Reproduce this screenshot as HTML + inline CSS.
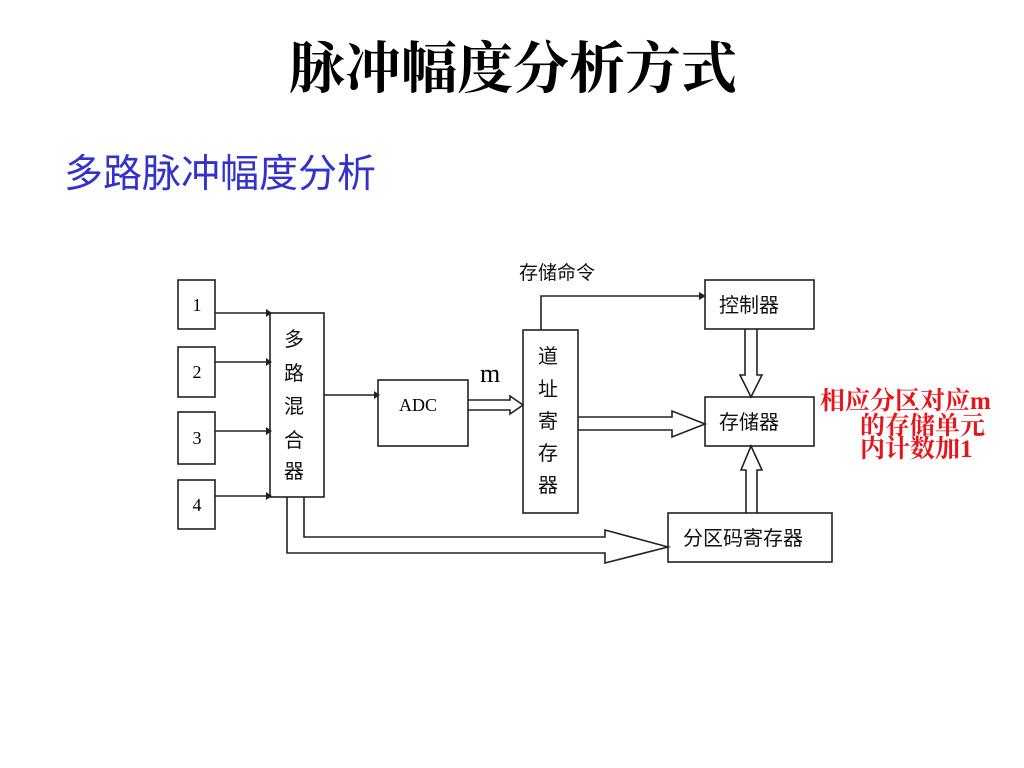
<!DOCTYPE html>
<html><head><meta charset="utf-8"><style>
html,body{margin:0;padding:0;background:#fff;width:1024px;height:768px;overflow:hidden}
</style></head><body>
<svg width="1024" height="768" xmlns="http://www.w3.org/2000/svg" style="position:absolute;left:0;top:0">
<text x="513" y="88" text-anchor="middle" font-family="Liberation Serif, Noto Serif CJK SC, serif" font-size="56" font-weight="bold" fill="#000">脉冲幅度分析方式</text>
<text x="64" y="187" font-family="Liberation Sans, Noto Sans CJK SC, sans-serif" font-size="39" fill="#3333cc">多路脉冲幅度分析</text>
<g fill="none" stroke="#222" stroke-width="1.6">
<rect x="178" y="280" width="37" height="49"/>
<rect x="178" y="347" width="37" height="50"/>
<rect x="178" y="412" width="37" height="52"/>
<rect x="178" y="480" width="37" height="49"/>
<rect x="270" y="313" width="54" height="184"/>
<rect x="378" y="380" width="90" height="66"/>
<rect x="523" y="330" width="55" height="183"/>
<rect x="705" y="280" width="109" height="49"/>
<rect x="705" y="397" width="109" height="49"/>
<rect x="668" y="513" width="164" height="49"/>
<path d="M215 313H266M215 362H266M215 431H266M215 496H266M324 395H374"/>
<path d="M541 330V296H701"/>
<path d="M468 400H510V396L523 405L510 414V410H468"/>
<path d="M578 417H672V411L705 424L672 437V430H578"/>
<path d="M745 329V375H740L751 397L762 375H757V329"/>
<path d="M746 513V470H741L751 446L762 470H757V513"/>
<path d="M304 497V537H605V530L668 547L605 563V553H287V497"/>
</g>
<g fill="#222">
<path d="M266 309L272 313L266 317Z"/><path d="M266 358L272 362L266 366Z"/><path d="M266 427L272 431L266 435Z"/><path d="M266 492L272 496L266 500Z"/><path d="M374 391L380 395L374 399Z"/><path d="M699 292L706 296L699 300Z"/>
</g>
<g font-family="Liberation Serif, serif" font-size="18" fill="#000" text-anchor="middle">
<text x="197" y="311">1</text><text x="197" y="378">2</text><text x="197" y="444">3</text><text x="197" y="511">4</text>
<text x="418" y="411">ADC</text>
</g>
<text x="480" y="382" font-family="Liberation Serif, serif" font-size="26" fill="#000">m</text>
<g font-family="Liberation Sans, Noto Sans CJK SC, sans-serif" font-size="20" fill="#111">
<text x="284" y="346">多</text><text x="284" y="380">路</text><text x="284" y="413">混</text><text x="284" y="447">合</text><text x="284" y="478">器</text>
<text x="538" y="363">道</text><text x="538" y="396">址</text><text x="538" y="428">寄</text><text x="538" y="460">存</text><text x="538" y="492">器</text>
<text x="719" y="312">控制器</text><text x="719" y="429">存储器</text><text x="683" y="545">分区码寄存器</text>
<text x="519" y="279" font-size="19">存储命令</text>
</g>
<g font-family="Liberation Serif, Noto Serif CJK SC, serif" font-size="25" font-weight="bold" fill="#e8141b">
<text x="820" y="409">相应分区对应m</text><text x="860" y="434">的存储单元</text><text x="860" y="457">内计数加1</text>
</g>
</svg>
</body></html>
